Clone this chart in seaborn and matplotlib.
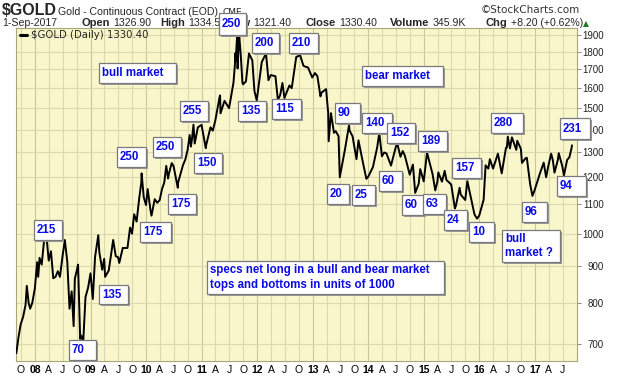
import pandas as pd
import matplotlib.pyplot as plt
import matplotlib.patches as mpatches
import matplotlib.lines as mlines
from matplotlib.ticker import NullLocator
import seaborn as sns

# Gold continuous contract (key closes, month ends and turning points)
dates = [
    "2007-08-31", "2007-09-14", "2007-09-28", "2007-10-15", "2007-10-31", "2007-11-08", "2007-11-20",
    "2007-11-30", "2007-12-14", "2007-12-31", "2008-01-15", "2008-01-22", "2008-01-31", "2008-02-14",
    "2008-02-29", "2008-03-17", "2008-03-31", "2008-04-15", "2008-04-30", "2008-05-15", "2008-05-30",
    "2008-06-13", "2008-06-30", "2008-07-15", "2008-07-31", "2008-08-15", "2008-08-29", "2008-09-11",
    "2008-09-19", "2008-09-30", "2008-10-10", "2008-10-24", "2008-10-31", "2008-11-13", "2008-11-28",
    "2008-12-15", "2008-12-31", "2009-01-15", "2009-01-30", "2009-02-20", "2009-02-27", "2009-03-18",
    "2009-03-31", "2009-04-06", "2009-04-30", "2009-05-29", "2009-06-15", "2009-06-30", "2009-07-08",
    "2009-07-31", "2009-08-31", "2009-09-17", "2009-09-30", "2009-10-14", "2009-10-30", "2009-11-16",
    "2009-11-30", "2009-12-02", "2009-12-16", "2009-12-31", "2010-01-11", "2010-01-29", "2010-02-05",
    "2010-02-26", "2010-03-15", "2010-03-31", "2010-04-15", "2010-04-30", "2010-05-13", "2010-05-25",
    "2010-05-31", "2010-06-18", "2010-06-30", "2010-07-28", "2010-07-30", "2010-08-31", "2010-09-15",
    "2010-09-30", "2010-10-14", "2010-10-22", "2010-10-29", "2010-11-08", "2010-11-16", "2010-11-30",
    "2010-12-07", "2010-12-31", "2011-01-28", "2011-01-31", "2011-02-28", "2011-03-15", "2011-03-31",
    "2011-04-29", "2011-05-02", "2011-05-05", "2011-05-31", "2011-06-30", "2011-07-29", "2011-08-09",
    "2011-08-10", "2011-08-12", "2011-08-22", "2011-08-25", "2011-08-31", "2011-09-05", "2011-09-15",
    "2011-09-26", "2011-09-30", "2011-10-19", "2011-10-31", "2011-11-08", "2011-11-30", "2011-12-14",
    "2011-12-29", "2012-01-31", "2012-02-28", "2012-03-15", "2012-03-30", "2012-04-30", "2012-05-16",
    "2012-05-31", "2012-06-15", "2012-06-28", "2012-07-31", "2012-08-15", "2012-08-31", "2012-09-14",
    "2012-09-28", "2012-10-04", "2012-10-31", "2012-11-15", "2012-11-30", "2012-12-28", "2013-01-15",
    "2013-01-31", "2013-02-20", "2013-02-28", "2013-03-29", "2013-04-12", "2013-04-15", "2013-04-30",
    "2013-05-20", "2013-05-31", "2013-06-19", "2013-06-27", "2013-07-31", "2013-08-27", "2013-08-30",
    "2013-09-19", "2013-09-30", "2013-10-15", "2013-10-28", "2013-11-29", "2013-12-19", "2013-12-31",
    "2014-01-31", "2014-02-28", "2014-03-14", "2014-03-31", "2014-04-15", "2014-04-30", "2014-05-30",
    "2014-06-30", "2014-07-10", "2014-07-31", "2014-08-15", "2014-08-29", "2014-09-30", "2014-10-21",
    "2014-11-05", "2014-11-28", "2014-12-08", "2014-12-31", "2015-01-22", "2015-01-30", "2015-02-27",
    "2015-03-17", "2015-03-31", "2015-04-06", "2015-04-30", "2015-05-18", "2015-05-29", "2015-06-30",
    "2015-07-24", "2015-07-31", "2015-08-24", "2015-08-31", "2015-09-30", "2015-10-14", "2015-10-30",
    "2015-11-30", "2015-12-17", "2015-12-31", "2016-01-29", "2016-02-11", "2016-02-29", "2016-03-10",
    "2016-03-31", "2016-04-29", "2016-05-02", "2016-05-27", "2016-06-24", "2016-06-30", "2016-07-06",
    "2016-07-20", "2016-08-02", "2016-08-31", "2016-09-06", "2016-09-30", "2016-10-07", "2016-10-31",
    "2016-11-08", "2016-11-30", "2016-12-15", "2016-12-30", "2017-01-31", "2017-02-27", "2017-03-15",
    "2017-03-31", "2017-04-17", "2017-04-28", "2017-05-09", "2017-05-31", "2017-06-06", "2017-06-30",
    "2017-07-10", "2017-07-31", "2017-08-15", "2017-08-29", "2017-09-01",
]
prices = [
    680, 715, 745, 765, 795, 845, 800,
    785, 800, 838, 912, 870, 925, 905,
    975, 990, 917, 945, 866, 870, 886,
    870, 930, 980, 915, 785, 830, 742,
    865, 885, 905, 712, 720, 705, 815,
    840, 880, 810, 928, 995, 942, 890,
    922, 870, 888, 980, 930, 927, 910,
    955, 955, 1020, 1000, 1065, 1040, 1120,
    1180, 1215, 1125, 1097, 1155, 1080, 1060,
    1118, 1105, 1115, 1155, 1180, 1245, 1195,
    1215, 1256, 1244, 1160, 1180, 1248, 1270,
    1309, 1375, 1325, 1357, 1422, 1338, 1386,
    1410, 1421, 1318, 1333, 1410, 1395, 1439,
    1556, 1563, 1475, 1536, 1500, 1628, 1742,
    1790, 1745, 1891, 1705, 1825, 1895, 1780,
    1628, 1620, 1635, 1725, 1790, 1750, 1585,
    1538, 1740, 1790, 1642, 1669, 1663, 1540,
    1564, 1627, 1550, 1614, 1600, 1690, 1770,
    1774, 1795, 1720, 1714, 1711, 1656, 1680,
    1663, 1558, 1578, 1595, 1476, 1348, 1476,
    1385, 1393, 1370, 1200, 1312, 1420, 1396,
    1370, 1327, 1272, 1352, 1250, 1194, 1202,
    1240, 1321, 1385, 1284, 1300, 1296, 1246,
    1322, 1339, 1282, 1306, 1287, 1210, 1250,
    1141, 1175, 1232, 1184, 1300, 1279, 1213,
    1150, 1183, 1219, 1183, 1225, 1190, 1172,
    1085, 1095, 1160, 1135, 1115, 1185, 1142,
    1064, 1050, 1060, 1116, 1247, 1234, 1272,
    1234, 1290, 1295, 1215, 1320, 1322, 1368,
    1317, 1365, 1311, 1350, 1315, 1257, 1276,
    1278, 1173, 1130, 1152, 1211, 1258, 1200,
    1249, 1295, 1268, 1218, 1269, 1297, 1242,
    1207, 1269, 1280, 1318, 1330.4,
]
ytick_values = [700, 800, 900, 1000, 1100, 1200, 1300, 1400, 1500, 1600, 1700, 1800, 1900]
month_letters = {10: "O", 4: "A", 7: "J"}

quote_keys = ["Open", "High", "Low", "Close", "Volume", "Chg"]
quote_values = ["1326.90", "1334.50", "1321.40", "1330.40", "345.9K", "+8.20 (+0.62%)"]

note_labels = [
    "bull market", "bear market", "215", "70", "135", "175", "175", "250", "250", "150", "255",
    "250", "135", "200", "115", "210", "90", "140", "152", "189", "280", "231", "157", "20",
    "25", "60", "60", "63", "24", "10", "96", "94", "bull\nmarket ?",
    "specs net long in a bull and bear market\ntops and bottoms in units of 1000",
]
# box corners in pixels (x0, y0, x1, y1), measured from the top-left of the image
note_boxes = [
    (99, 63, 176, 83), (362, 66, 443, 86), (34, 220, 62, 240), (69, 340, 96, 360),
    (99, 285, 128, 304), (140, 222, 171, 242), (168, 194, 196, 214), (117, 147, 146, 167),
    (153, 137, 181, 157), (194, 153, 222, 173), (180, 101, 208, 121), (219, 13, 246, 35),
    (238, 101, 266, 121), (252, 33, 279, 53), (272, 99, 301, 119), (289, 33, 318, 53),
    (335, 103, 360, 123), (362, 113, 392, 133), (387, 123, 415, 143), (418, 131, 447, 151),
    (491, 113, 523, 133), (560, 118, 590, 139), (452, 158, 481, 178), (327, 184, 349, 204),
    (352, 185, 375, 205), (379, 171, 402, 191), (402, 195, 424, 215), (423, 194, 446, 214),
    (444, 210, 467, 230), (469, 222, 494, 242), (522, 202, 547, 222), (557, 176, 586, 196),
    (502, 230, 560, 262), (207, 261, 444, 294),
]
quote_key_x = [82, 160, 228, 306, 390, 486]

W, H = 620, 376
sns.set_style("white")
plt.rcParams["font.family"] = ["Liberation Sans", "DejaVu Sans"]

fig = plt.figure(figsize=(W / 100, H / 100), dpi=100)
ax = fig.add_axes([16 / W, 1 - 361 / H, (577 - 16) / W, (361 - 28) / H])
ax.set_facecolor("#F8F6CA")

gold = pd.DataFrame({"date": pd.to_datetime(dates), "close": prices})
sns.lineplot(data=gold, x="date", y="close", color="black", lw=1.4, ax=ax, zorder=3)

ax.set_yscale("log")
ax.set_ylim(663, 1943)
ax.set_xlim(pd.Timestamp("2007-08-29"), pd.Timestamp("2017-10-04"))
ax.set_xlabel("")
ax.set_ylabel("")

# quarterly grid, a bit darker at year starts
quarters = pd.date_range("2007-10-01", "2017-07-01", freq="QS")
for d in quarters:
    ax.axvline(d, color="#C9C796" if d.month == 1 else "#DCDAAA", lw=0.8, zorder=1)
for v in ytick_values:
    ax.axhline(v, color="#DCDAAA", lw=0.8, zorder=1)

xlabels = [d.strftime("%y") if d.month == 1 else month_letters[d.month] for d in quarters]
ax.set_xticks(quarters)
ax.set_xticklabels(xlabels)
for lab, d in zip(ax.get_xticklabels(), quarters):
    if d.month == 1:
        lab.set_fontweight("bold")
ax.tick_params(axis="x", length=0, pad=3, labelsize=7.5, colors="black")

ax.yaxis.tick_right()
ax.set_yticks(ytick_values)
ax.set_yticklabels([str(v) for v in ytick_values])
ax.yaxis.set_minor_locator(NullLocator())
ax.tick_params(axis="y", which="major", length=3, width=0.7, color="#8C8C70",
               pad=16.5, labelsize=7, labelcolor="#222222")
for tick in ax.yaxis.get_major_ticks():
    tick.label2.set_horizontalalignment("right")

for sp in ax.spines.values():
    sp.set_color("#A8A67C")
    sp.set_linewidth(0.8)

# legend inside the plot
fig.add_artist(mlines.Line2D([20 / W, 27 / W], [1 - 35 / H] * 2, color="black", lw=2.2))
fig.text(31 / W, 1 - 35 / H, r"\$GOLD (Daily) 1330.40", fontsize=7.3, va="center",
         family="DejaVu Sans")

# header
renderer = fig.canvas.get_renderer()
fig.text(2 / W, 1 - 15 / H, r"\$GOLD", fontsize=11.5, fontweight="bold", va="baseline")
fig.text(58 / W, 1 - 15 / H, "Gold - Continuous Contract (EOD)", fontsize=7.6, va="baseline")
fig.text(222 / W, 1 - 15 / H, "CME", fontsize=6.5, va="baseline", family="DejaVu Sans")
fig.text(580 / W, 1 - 13 / H, "\u00a9StockCharts.com", fontsize=7.5, va="baseline", ha="right",
         family="DejaVu Sans", color="#333333")
fig.text(2 / W, 1 - 26 / H, "1-Sep-2017", fontsize=7.6, va="baseline")
for x, key, val in zip(quote_key_x, quote_keys, quote_values):
    k = fig.text(x / W, 1 - 26 / H, key, fontsize=8, fontweight="bold", va="baseline")
    x_end = k.get_window_extent(renderer).x1
    fig.text((x_end + 3) / W, 1 - 26 / H, val, fontsize=7.6, va="baseline")
fig.text(583 / W, 1 - 26 / H, "\u25b2", fontsize=5.5, va="baseline", color="#1E7A1E",
         family="DejaVu Sans")

# annotation boxes with drop shadow
for text, (x0, y0, x1, y1) in zip(note_labels, note_boxes):
    fig.add_artist(mpatches.Rectangle(((x0 + 2) / W, 1 - (y1 + 2) / H), (x1 - x0) / W, (y1 - y0) / H,
                                      facecolor="#9A9A9A", edgecolor="none", zorder=10))
    fig.add_artist(mpatches.Rectangle((x0 / W, 1 - y1 / H), (x1 - x0) / W, (y1 - y0) / H,
                                      facecolor="white", edgecolor="#7A7A7A", lw=0.9, zorder=11))
    fig.text((x0 + 3) / W, 1 - (y0 + y1) / 2 / H, text, fontsize=8.3, fontweight="bold",
             color="#0A0AE6", va="center", ha="left", zorder=12, linespacing=1.25)

plt.savefig("out.png", dpi=100)
